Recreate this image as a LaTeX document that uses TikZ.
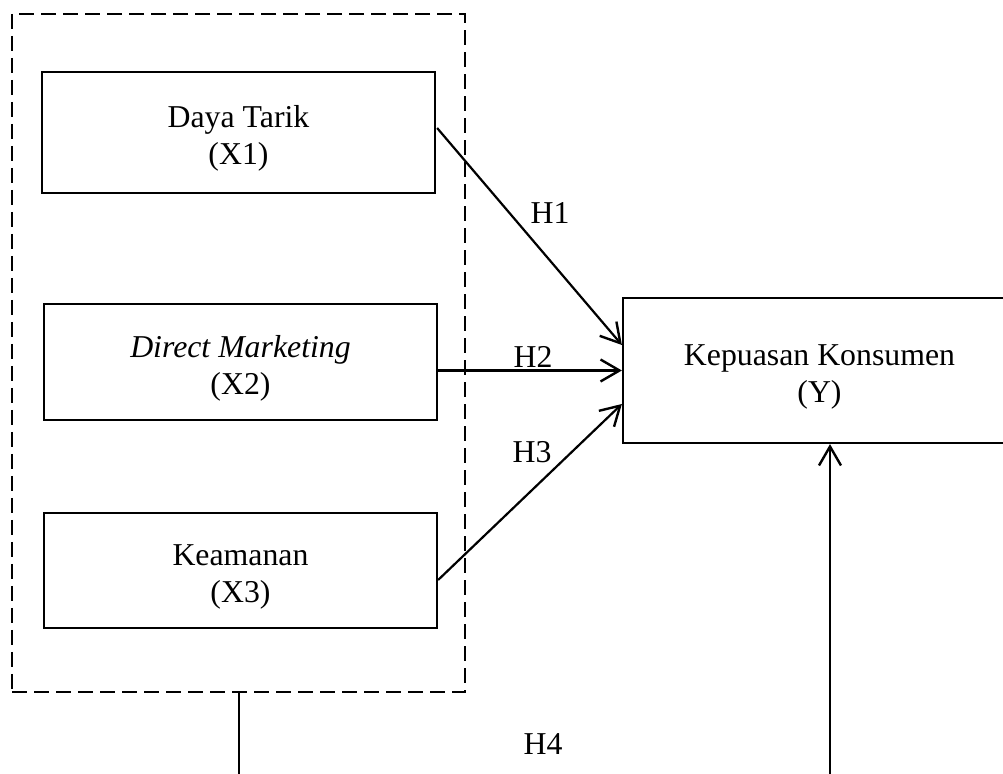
\documentclass[tikz,border=0pt]{standalone}
\usepackage{fontspec}
\setmainfont{Liberation Serif}
\usetikzlibrary{arrows.meta,calc}
\begin{document}
\begin{tikzpicture}[x=0.5pt,y=-0.5pt,
  every node/.style={font=\fontsize{15.9}{18.5}\selectfont},
  varbox/.style={draw,line width=1.1pt,rectangle,inner sep=0pt,
    minimum width=196.5pt},
  boxtext/.style={label={[align=center,yshift=-3pt]center:#1}},
  conn/.style={line width=1.1pt,-{Straight Barb[length=9.5pt,width=11pt,line width=1.2pt]}},
  plain/.style={line width=1.1pt},
  grpbox/.style={draw,line width=1.1pt,dash pattern=on 7.5pt off 3.5pt,inner sep=0pt,
    minimum width=226.5pt,minimum height=339pt},
  lbl/.style={inner sep=0pt}]
\useasboundingbox (0,0) rectangle (1003,774);
\clip (0,0) rectangle (1003,774);
\node[grpbox] (grp) at (238.5,353) {};
\node[varbox,minimum height=60.5pt,boxtext={Daya Tarik\\(X1)}] (x1) at (238.5,132.5) {};
\node[varbox,minimum height=58pt,boxtext={\textit{Direct Marketing}\\(X2)}] (x2) at (240.5,362) {};
\node[varbox,minimum height=57.5pt,boxtext={Keamanan\\(X3)}] (x3) at (240.5,570.5) {};
\node[varbox,minimum height=72.5pt,boxtext={Kepuasan Konsumen\\(Y)}] (y) at (819.5,370.5) {};
\draw[conn] ($(x1.east)+(1,-4.5)$) -- ($(y.west)+(0,-25.5)$);
\draw[conn] (x2.east |- y.west) -- (y.west);
\draw[conn] ($(x3.east)+(0,9.5)$) -- ($(y.west)+(0,33.5)$);
\coordinate (bl) at (239,780);
\coordinate (br) at (830,780);
\draw[plain] (grp.south -| bl) -- (bl);
\draw[conn] (br) -- (br |- y.south);
\node[lbl] (h1) at (550,213) {H1};
\node[lbl] (h2) at (533,357) {H2};
\node[lbl] (h3) at (532,452) {H3};
\node[lbl] (h4) at (543,744) {H4};
\end{tikzpicture}
\end{document}
